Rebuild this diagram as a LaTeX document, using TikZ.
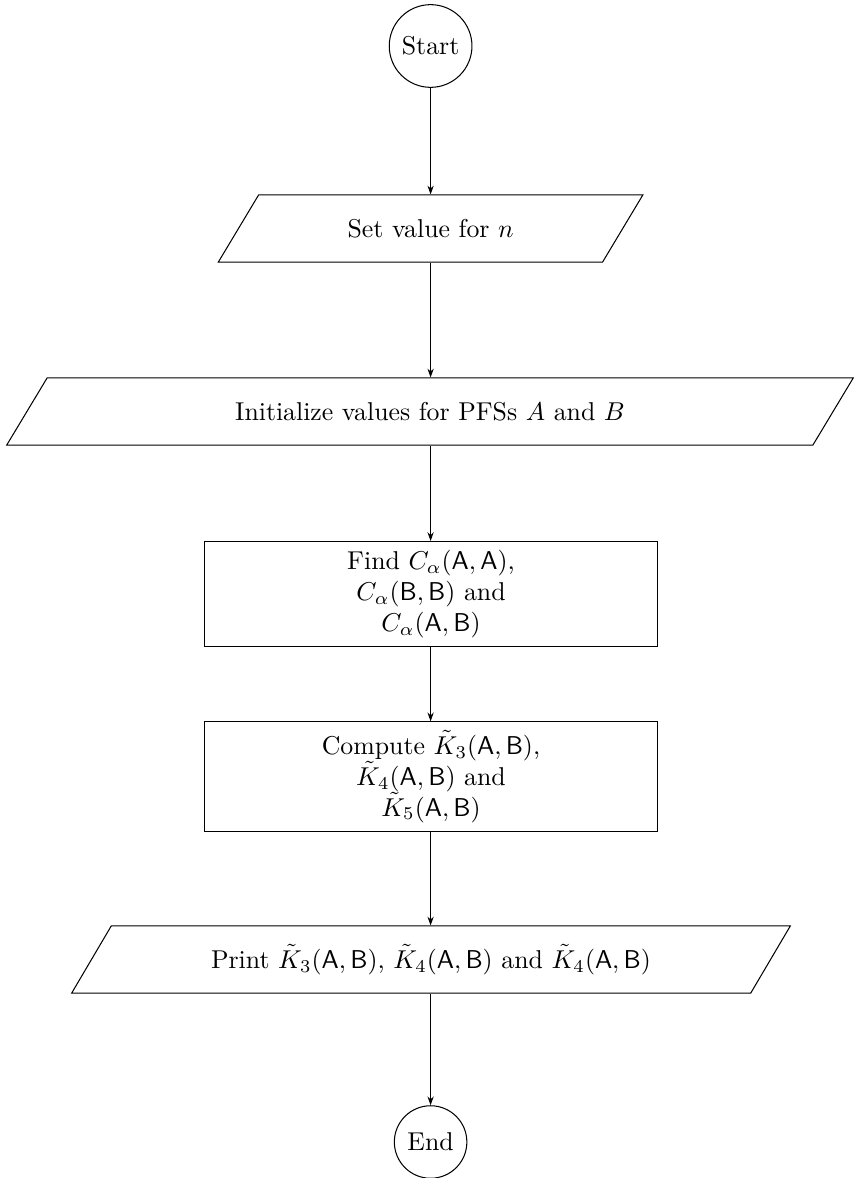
\documentclass[tikz,border=0pt]{standalone}
\usetikzlibrary{shapes.geometric,arrows.meta}
\begin{document}
\begin{tikzpicture}[x=0.3876pt,y=-0.3876pt,
  term/.style={draw,circle},
  io/.style={draw,trapezium,trapezium left angle=59.2,trapezium right angle=120.8,
    trapezium stretches=true,minimum height=26pt,align=center},
  proc/.style={draw,rectangle,minimum width=175.6pt,align=center},
  arr/.style={-{Stealth[length=3.4pt,width=2.4pt]}}]
\useasboundingbox (0,0) rectangle (854,1178);
\node[term] (start) at (430.6,46) {Start};
\node[io,minimum width=164.7pt] (setn) at (430.6,228.5) {Set value for $n$};
\node[io,minimum width=329pt] (init) at (430,411.5) {Initialize values for PFSs $A$ and $B$};
\node[proc] (find) at (431,594) {Find $C_\alpha(\mathsf{A},\mathsf{A})$,\\ $C_\alpha(\mathsf{B},\mathsf{B})$ and\\ $C_\alpha(\mathsf{A},\mathsf{B})$};
\node[proc] (comp) at (431,776.5) {Compute $\tilde{K}_3(\mathsf{A},\mathsf{B})$,\\ $\tilde{K}_4(\mathsf{A},\mathsf{B})$ and\\ $\tilde{K}_5(\mathsf{A},\mathsf{B})$};
\node[io,minimum width=278.7pt] (print) at (431,959.5) {Print $\tilde{K}_3(\mathsf{A},\mathsf{B})$, $\tilde{K}_4(\mathsf{A},\mathsf{B})$ and $\tilde{K}_4(\mathsf{A},\mathsf{B})$};
\node[term] (end) at (430.6,1142) {End};
\draw[arr] (start.south) -- (start.south |- setn.north);
\draw[arr] (setn.south -| start.south) -- (start.south |- init.north);
\draw[arr] (init.south -| start.south) -- (start.south |- find.north);
\draw[arr] (find.south -| start.south) -- (start.south |- comp.north);
\draw[arr] (comp.south -| start.south) -- (start.south |- print.north);
\draw[arr] (print.south -| start.south) -- (end.north);
\end{tikzpicture}
\end{document}
